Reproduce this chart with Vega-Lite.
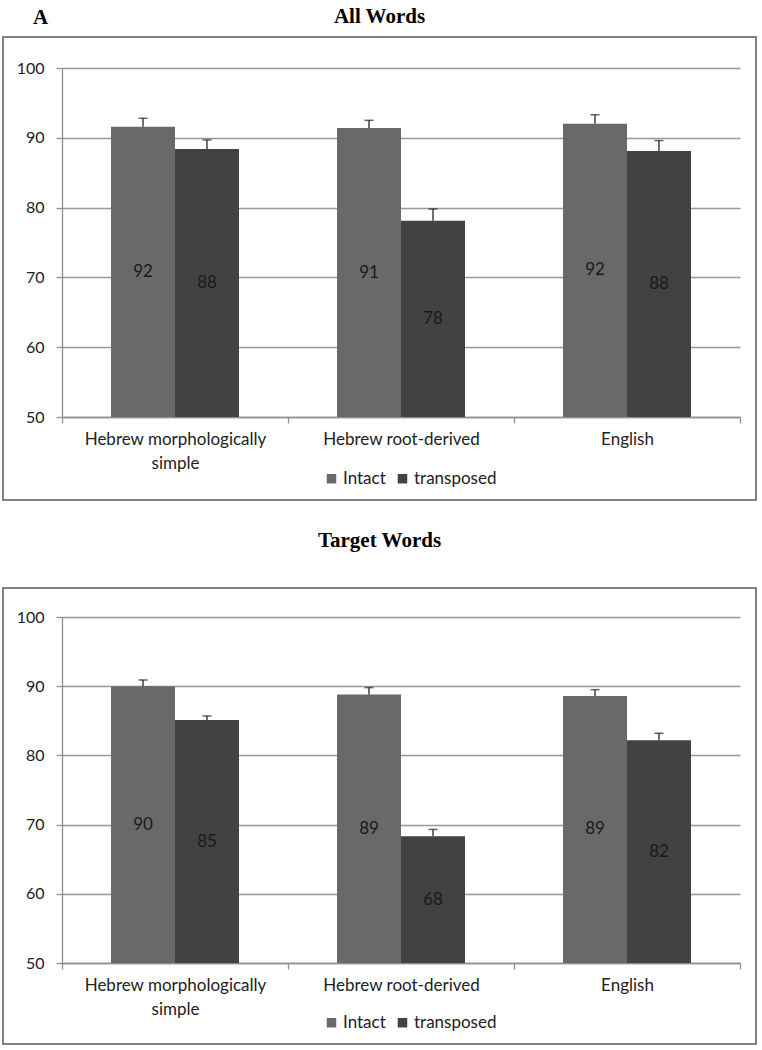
{
  "$schema": "https://vega.github.io/schema/vega-lite/v6.json",
  "background": "white",
  "padding": {"left": 2, "top": 5, "right": 0, "bottom": 0},
  "autosize": {"type": "pad"},
  "spacing": 28,
  "datasets": {
    "all": [
      {"category": "Hebrew morphologically simple", "condition": "Intact", "value": 91.6, "upper": 92.8},
      {"category": "Hebrew morphologically simple", "condition": "transposed", "value": 88.4, "upper": 89.7},
      {"category": "Hebrew root-derived", "condition": "Intact", "value": 91.4, "upper": 92.5},
      {"category": "Hebrew root-derived", "condition": "transposed", "value": 78.1, "upper": 79.8},
      {"category": "English", "condition": "Intact", "value": 92.0, "upper": 93.3},
      {"category": "English", "condition": "transposed", "value": 88.1, "upper": 89.6}
    ],
    "target": [
      {"category": "Hebrew morphologically simple", "condition": "Intact", "value": 90.0, "upper": 90.9},
      {"category": "Hebrew morphologically simple", "condition": "transposed", "value": 85.1, "upper": 85.7},
      {"category": "Hebrew root-derived", "condition": "Intact", "value": 88.8, "upper": 89.8},
      {"category": "Hebrew root-derived", "condition": "transposed", "value": 68.3, "upper": 69.3},
      {"category": "English", "condition": "Intact", "value": 88.6, "upper": 89.5},
      {"category": "English", "condition": "transposed", "value": 82.2, "upper": 83.2}
    ]
  },
  "config": {
    "view": {"stroke": "#828282", "strokeWidth": 2},
    "font": "Lato",
    "axis": {
      "labelFont": "Lato",
      "labelFontSize": 16,
      "labelColor": "#222222",
      "domainColor": "#8f8f8f",
      "tickColor": "#8f8f8f",
      "gridColor": "#999999",
      "gridWidth": 1.3,
      "domainWidth": 1.3,
      "tickWidth": 1.3
    },
    "legend": {
      "labelFont": "Lato",
      "labelFontSize": 17,
      "labelColor": "#222222",
      "symbolType": "square",
      "symbolSize": 90,
      "symbolStrokeWidth": 0,
      "labelOffset": 3,
      "columnPadding": 8
    }
  },
  "resolve": {"scale": {"color": "independent"}, "legend": {"color": "independent"}},
  "vconcat": [
    {
      "width": 753,
      "height": 463,
      "title": {"text": "All Words", "font": "Liberation Serif", "fontSize": 21, "fontWeight": "bold", "color": "#000000", "anchor": "middle", "baseline": "alphabetic", "offset": -38, "frame": "group"},
      "data": {"name": "all"},
      "transform": [{"calculate": "(datum.value + 50) / 2", "as": "mid"}],
      "encoding": {
        "x": {
          "field": "category", "type": "nominal",
          "sort": ["Hebrew morphologically simple", "Hebrew root-derived", "English"],
          "scale": {"range": [59, 737], "paddingInner": 0, "paddingOuter": 0},
          "axis": {"title": null, "orient": "bottom", "offset": -83, "labelAngle": 0, "labelLimit": 0, "tickBand": "extent", "tickSize": 6, "labelPadding": 8, "labelLineHeight": 24, "labelBaseline": "top", "labelFontSize": 17, "grid": false,
            "labelExpr": "datum.label == 'Hebrew morphologically simple' ? ['Hebrew morphologically', 'simple'] : datum.label"}
        },
        "xOffset": {"field": "condition", "type": "nominal", "sort": ["Intact", "transposed"], "scale": {"paddingInner": 0, "paddingOuter": 0.766}}
      },
      "layer": [
        {
          "mark": {"type": "bar"},
          "encoding": {
            "y": {"field": "value", "type": "quantitative",
              "scale": {"domain": [50, 100], "range": [380, 31], "nice": false, "zero": false},
              "axis": {"values": [50, 60, 70, 80, 90, 100], "offset": -59, "tickSize": 6, "labelPadding": 12, "grid": true,
                "title": "A", "titleFont": "Liberation Serif", "titleFontSize": 21, "titleFontWeight": "bold", "titleColor": "#000000", "titleAngle": 0, "titleX": -22, "titleY": -14, "titleAlign": "center", "titleBaseline": "alphabetic"}},
            "y2": {"datum": 50},
            "color": {"field": "condition", "type": "nominal", "scale": {"domain": ["Intact", "transposed"], "range": ["#696969", "#424242"]},
              "legend": {"title": null, "orient": "none", "direction": "horizontal", "legendX": 320, "legendY": 433}}
          }
        },
        {
          "mark": {"type": "rule", "color": "#222222", "strokeWidth": 1.3},
          "encoding": {"y": {"field": "value", "type": "quantitative"}, "y2": {"field": "upper"}}
        },
        {
          "mark": {"type": "tick", "color": "#222222", "thickness": 1.5, "size": 9, "orient": "horizontal"},
          "encoding": {"y": {"field": "upper", "type": "quantitative"}}
        },
        {
          "mark": {"type": "text", "font": "Lato", "fontSize": 17, "color": "#1a1a1a"},
          "encoding": {"y": {"field": "mid", "type": "quantitative"}, "text": {"field": "value", "type": "quantitative", "format": ".0f"}}
        }
      ]
    },
    {
      "width": 753,
      "height": 456,
      "title": {"text": "Target Words", "font": "Liberation Serif", "fontSize": 21, "fontWeight": "bold", "color": "#000000", "anchor": "middle", "baseline": "alphabetic", "offset": 20, "frame": "group"},
      "data": {"name": "target"},
      "transform": [{"calculate": "(datum.value + 50) / 2", "as": "mid"}],
      "encoding": {
        "x": {
          "field": "category", "type": "nominal",
          "sort": ["Hebrew morphologically simple", "Hebrew root-derived", "English"],
          "scale": {"range": [59, 737], "paddingInner": 0, "paddingOuter": 0},
          "axis": {"title": null, "orient": "bottom", "offset": -81, "labelAngle": 0, "labelLimit": 0, "tickBand": "extent", "tickSize": 6, "labelPadding": 8, "labelLineHeight": 24, "labelBaseline": "top", "labelFontSize": 17, "grid": false,
            "labelExpr": "datum.label == 'Hebrew morphologically simple' ? ['Hebrew morphologically', 'simple'] : datum.label"}
        },
        "xOffset": {"field": "condition", "type": "nominal", "sort": ["Intact", "transposed"], "scale": {"paddingInner": 0, "paddingOuter": 0.766}}
      },
      "layer": [
        {
          "mark": {"type": "bar"},
          "encoding": {
            "y": {"field": "value", "type": "quantitative",
              "scale": {"domain": [50, 100], "range": [375, 29], "nice": false, "zero": false},
              "axis": {"values": [50, 60, 70, 80, 90, 100], "offset": -59, "tickSize": 6, "labelPadding": 12, "grid": true, "title": null}},
            "y2": {"datum": 50},
            "color": {"field": "condition", "type": "nominal", "scale": {"domain": ["Intact", "transposed"], "range": ["#696969", "#424242"]},
              "legend": {"title": null, "orient": "none", "direction": "horizontal", "legendX": 320, "legendY": 426}}
          }
        },
        {
          "mark": {"type": "rule", "color": "#222222", "strokeWidth": 1.3},
          "encoding": {"y": {"field": "value", "type": "quantitative"}, "y2": {"field": "upper"}}
        },
        {
          "mark": {"type": "tick", "color": "#222222", "thickness": 1.5, "size": 9, "orient": "horizontal"},
          "encoding": {"y": {"field": "upper", "type": "quantitative"}}
        },
        {
          "mark": {"type": "text", "font": "Lato", "fontSize": 17, "color": "#1a1a1a"},
          "encoding": {"y": {"field": "mid", "type": "quantitative"}, "text": {"field": "value", "type": "quantitative", "format": ".0f"}}
        }
      ]
    }
  ]
}
